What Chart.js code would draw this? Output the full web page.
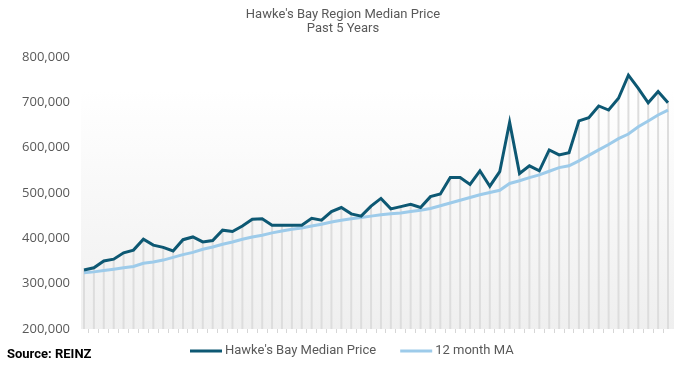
<!DOCTYPE html>
<html>
<head>
<meta charset="utf-8">
<script src="https://cdn.jsdelivr.net/npm/chart.js@4"></script>
<style>
    html, body { margin: 0; padding: 0; background: #fff; }
    #wrap { position: relative; width: 685px; height: 368px; }
    #source {
        position: absolute; left: 7px; top: 346px;
        font: bold 13px Roboto, sans-serif; color: #000;
    }
</style>
</head>
<body>
<div id="wrap">
    <canvas id="priceChart" width="685" height="368"></canvas>
    <div id="source">Source: REINZ</div>
</div>
<script>
// Months shown on the (hidden) x axis
const months = [
    'Mar-16','Apr-16','May-16','Jun-16','Jul-16','Aug-16','Sep-16','Oct-16','Nov-16','Dec-16',
    'Jan-17','Feb-17','Mar-17','Apr-17','May-17','Jun-17','Jul-17','Aug-17','Sep-17','Oct-17','Nov-17','Dec-17',
    'Jan-18','Feb-18','Mar-18','Apr-18','May-18','Jun-18','Jul-18','Aug-18','Sep-18','Oct-18','Nov-18','Dec-18',
    'Jan-19','Feb-19','Mar-19','Apr-19','May-19','Jun-19','Jul-19','Aug-19','Sep-19','Oct-19','Nov-19','Dec-19',
    'Jan-20','Feb-20','Mar-20','Apr-20','May-20','Jun-20','Jul-20','Aug-20','Sep-20','Oct-20','Nov-20','Dec-20',
    'Jan-21','Feb-21'
];

// Hawke's Bay median price
const medianPrice = [
    330000, 335000, 350000, 354000, 368000, 374000, 398000, 385000, 380000, 372000,
    397000, 403000, 392000, 395000, 418000, 415000, 427000, 442000, 443000, 429000,
    429000, 429000, 429000, 444000, 440000, 459000, 468000, 454000, 449000, 471000,
    488000, 465000, 470000, 475000, 468000, 492000, 498000, 534000, 534000, 519000,
    549000, 515000, 547000, 656000, 543000, 560000, 549000, 595000, 584000, 589000,
    659000, 666000, 692000, 683000, 709000, 760000, 731000, 699000, 724000, 699000
];

// 12 month moving average
const movingAvg = [
    324000, 326000, 329000, 332000, 335000, 338000, 345000, 348000, 352000, 358000,
    364000, 369000, 376000, 381000, 387000, 392000, 398000, 403000, 407000, 412000,
    416000, 420000, 423000, 427000, 431000, 436000, 440000, 443000, 446000, 449000,
    452000, 454000, 456000, 459000, 462000, 466000, 472000, 478000, 484000, 490000,
    496000, 501000, 506000, 521000, 527000, 534000, 540000, 548000, 556000, 560000,
    571000, 583000, 595000, 607000, 620000, 630000, 646000, 659000, 672000, 683000
];

const titleLines = ["Hawke's Bay Region Median Price", 'Past 5 Years'];

const yMin = 200000;
const yMax = 800000;
const yStep = 100000;

const darkBlue = '#0d5873';
const lightBlue = '#9dcbea';
const textGrey = '#595959';

// grey gradient panel plus drop lines from each median point
const backdrop = {
    id: 'backdrop',
    beforeDatasetsDraw(chart) {
        const { ctx, chartArea: a, scales } = chart;
        const top = scales.y.getPixelForValue(728000);
        const g = ctx.createLinearGradient(0, top, 0, a.bottom);
        g.addColorStop(0, '#ffffff');
        g.addColorStop(1, '#efefef');
        ctx.save();
        ctx.fillStyle = g;
        ctx.fillRect(a.left - 3, top, a.width + 9, a.bottom - top);

        ctx.strokeStyle = '#dddddd';
        ctx.lineWidth = 2;
        chart.getDatasetMeta(0).data.forEach(p => {
            ctx.beginPath();
            ctx.moveTo(p.x, p.y);
            ctx.lineTo(p.x, a.bottom);
            ctx.stroke();
        });
        ctx.restore();
    }
};

// two-line heading centred on the whole picture
const heading = {
    id: 'heading',
    afterDraw(chart) {
        const ctx = chart.ctx;
        ctx.save();
        ctx.font = '13px Roboto';
        ctx.fillStyle = textGrey;
        ctx.textAlign = 'center';
        ctx.textBaseline = 'middle';
        titleLines.forEach((t, i) => ctx.fillText(t, 343, 15 + i * 14));
        ctx.restore();
    }
};

// legend row under the chart: short line sample, then the series name
const legendRow = {
    id: 'legendRow',
    afterDraw(chart) {
        const ctx = chart.ctx;
        const y = 351;
        let x = 190;
        ctx.save();
        ctx.font = '13px Roboto';
        ctx.textBaseline = 'middle';
        chart.data.datasets.forEach(ds => {
            ctx.fillStyle = ds.borderColor;
            ctx.fillRect(x, y - 1.5, 32, 3);
            x += 35;
            ctx.fillStyle = textGrey;
            ctx.fillText(ds.label, x, y);
            x += ctx.measureText(ds.label).width + 24;
        });
        ctx.restore();
    }
};

new Chart(document.getElementById('priceChart'), {
    type: 'line',
    data: {
        labels: months,
        datasets: [{
            label: "Hawke's Bay Median Price",
            data: medianPrice,
            borderColor: darkBlue,
            borderWidth: 3,
            pointRadius: 0,
            tension: 0
        }, {
            label: '12 month MA',
            data: movingAvg,
            borderColor: lightBlue,
            borderWidth: 3,
            pointRadius: 0,
            tension: 0
        }]
    },
    options: {
        responsive: false,
        animation: false,
        layout: { padding: { left: 0, right: 17, top: 57, bottom: 35 } },
        plugins: {
            title: { display: false },
            legend: { display: false },
            tooltip: { enabled: false }
        },
        scales: {
            x: {
                border: { display: false },
                grid: {
                    display: true,
                    offset: true,
                    drawOnChartArea: false,
                    drawTicks: true,
                    tickLength: 4,
                    color: '#d6d6d6'
                },
                ticks: { display: false }
            },
            y: {
                min: yMin,
                max: yMax,
                border: { display: false },
                grid: { display: false, drawTicks: false },
                afterFit: scale => { scale.width = 84; },
                ticks: {
                    stepSize: yStep,
                    padding: 14,
                    color: textGrey,
                    font: { family: 'Open Sans', size: 13 },
                    callback: v => v.toLocaleString('en-US')
                }
            }
        }
    },
    plugins: [backdrop, heading, legendRow]
});
</script>
</body>
</html>
